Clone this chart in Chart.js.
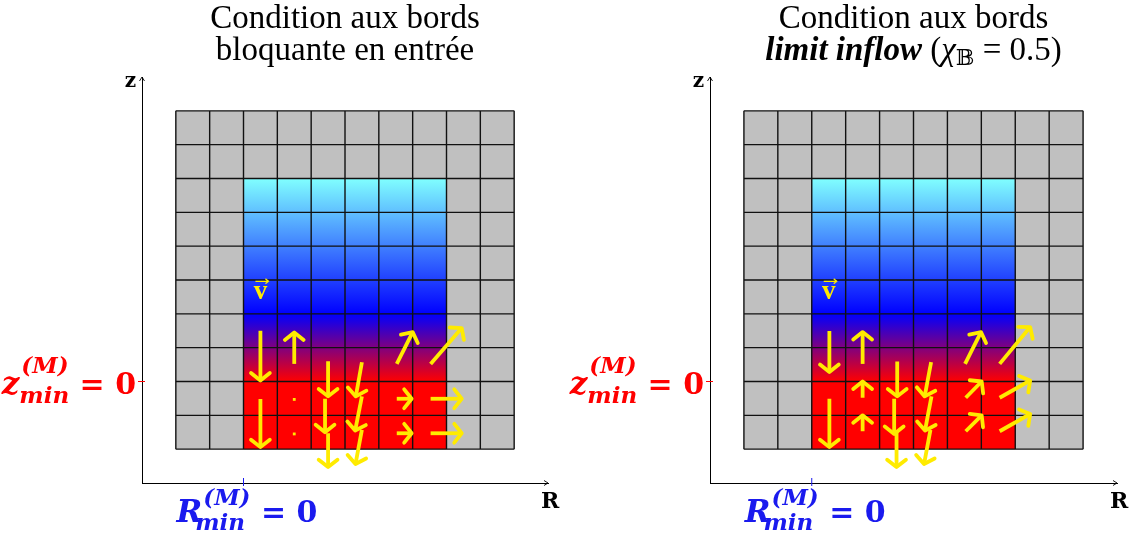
<!DOCTYPE html>
<html>
<head>
<meta charset="utf-8">
<script src="https://cdn.jsdelivr.net/npm/chart.js@4"></script>
<style>
  html, body { margin: 0; padding: 0; background: #fff; }
  #panneaux { position: relative; width: 1137px; height: 536px; overflow: hidden; }
  canvas { position: absolute; top: 0; }
</style>
</head>
<body>
<div id="panneaux">
  <canvas id="graphe-bloquante" width="568" height="536" style="left:0;width:568px;height:536px"></canvas>
  <canvas id="graphe-limit" width="569" height="536" style="left:568px;width:569px;height:536px"></canvas>
</div>
<script>
// Maillage (R, z) : mailles fantômes grises + domaine physique
const bordsR = [-2, 8];
const bordsZ = [-2, 8];
const domaineR = [0, 6];
const domaineZ = [-2, 6];
// dégradé du domaine selon z : [z, couleur]
const degrade = [[6, '#80ffff'], [2, '#0000ff'], [0, '#ff0000'], [-2, '#ff0000']];

// vecteurs vitesse : [R départ, z départ, R arrivée, z arrivée]
const flechesBloquante = [
  [0.5, 1.5, 0.5, 0.03],
  [1.5, 0.52, 1.5, 1.45],
  [2.5, 0.6, 2.5, -0.44],
  [3.5, 0.57, 3.32, -0.44],
  [4.53, 0.52, 5.0, 1.46],
  [5.53, 0.52, 6.45, 1.58],
  [0.5, -0.52, 0.5, -1.94],
  [2.41, -0.51, 2.41, -1.5],
  [3.5, -0.44, 3.3, -1.45],
  [4.53, -0.51, 4.97, -0.51],
  [5.53, -0.51, 6.45, -0.51],
  [2.5, -1.53, 2.5, -2.53],
  [3.5, -1.43, 3.31, -2.44],
  [4.53, -1.53, 4.97, -1.53],
  [5.53, -1.53, 6.45, -1.53]
];
// vitesses nulles (simple point)
const pointsBloquante = [[1.5, -0.53], [1.5, -1.55]];

const flechesLimit = [
  [0.52, 1.49, 0.52, 0.28],
  [1.5, 0.52, 1.5, 1.46],
  [2.52, 0.59, 2.52, -0.44],
  [3.52, 0.57, 3.33, -0.44],
  [4.52, 0.52, 4.99, 1.46],
  [5.54, 0.52, 6.44, 1.61],
  [0.52, -0.51, 0.52, -1.94],
  [1.5, -0.48, 1.5, 0.0],
  [2.43, -0.51, 2.43, -1.55],
  [3.53, -0.44, 3.34, -1.45],
  [4.54, -0.48, 5.01, 0.0],
  [5.54, -0.48, 6.44, 0.03],
  [1.5, -1.47, 1.5, -1.0],
  [2.5, -1.5, 2.5, -2.53],
  [3.5, -1.43, 3.31, -2.44],
  [4.54, -1.47, 5.01, -1.0],
  [5.54, -1.47, 6.44, -0.96]
];
const pointsLimit = [];

// position du symbole v (R, z)
const posVitesse = [0.5, 2.43];

const jaune = '#ffeb00';
const gris = '#c0c0c0';
const rouge = '#ff0000';
const bleu = '#1a1aee';
const serif = '"Liberation Serif", "DejaVu Serif", serif';
const serifMath = '"DejaVu Serif", serif';

// écrit une suite de morceaux de texte (indices / exposants compris)
function ecrireFormule(ctx, x, y, morceaux, align) {
  const largeurs = morceaux.map(m => {
    ctx.font = m.font;
    if (m.sup !== undefined) {
      return Math.max(ctx.measureText(m.sup).width + (m.supDx || 0), ctx.measureText(m.sub).width + (m.subDx || 0));
    }
    return ctx.measureText(m.t).width;
  });
  const total = largeurs.reduce((a, b) => a + b, 0);
  let cx = align === 'right' ? x - total : align === 'center' ? x - total / 2 : x;
  morceaux.forEach((m, i) => {
    ctx.font = m.font;
    if (m.sup !== undefined) {
      ctx.fillText(m.sup, cx + (m.supDx || 0), y - m.up);
      ctx.fillText(m.sub, cx + (m.subDx || 0), y + m.down);
    } else {
      ctx.fillText(m.t, cx, y + (m.dy || 0));
    }
    cx += largeurs[i];
  });
}

const maillage = {
  id: 'maillage',
  beforeDatasetsDraw(chart) {
    const { ctx, scales: { x, y } } = chart;
    ctx.save();
    const x0 = x.getPixelForValue(bordsR[0]), x1 = x.getPixelForValue(bordsR[1]);
    const y0 = y.getPixelForValue(bordsZ[0]), y1 = y.getPixelForValue(bordsZ[1]);
    ctx.fillStyle = gris;
    ctx.fillRect(x0, y1, x1 - x0, y0 - y1);

    const dx0 = x.getPixelForValue(domaineR[0]), dx1 = x.getPixelForValue(domaineR[1]);
    const dyHaut = y.getPixelForValue(domaineZ[1]), dyBas = y.getPixelForValue(domaineZ[0]);
    const grad = ctx.createLinearGradient(0, dyHaut, 0, dyBas);
    degrade.forEach(([z, c]) => {
      grad.addColorStop((y.getPixelForValue(z) - dyHaut) / (dyBas - dyHaut), c);
    });
    ctx.fillStyle = grad;
    ctx.fillRect(dx0, dyHaut, dx1 - dx0, dyBas - dyHaut);

    ctx.strokeStyle = '#111';
    ctx.lineWidth = 1.4;
    ctx.beginPath();
    for (let r = bordsR[0]; r <= bordsR[1]; r++) {
      const px = x.getPixelForValue(r);
      ctx.moveTo(px, y0); ctx.lineTo(px, y1);
    }
    for (let z = bordsZ[0]; z <= bordsZ[1]; z++) {
      const py = y.getPixelForValue(z);
      ctx.moveTo(x0, py); ctx.lineTo(x1, py);
    }
    ctx.stroke();
    ctx.restore();
  }
};

const pointesFleches = {
  id: 'pointesFleches',
  afterDatasetsDraw(chart) {
    const ctx = chart.ctx;
    ctx.save();
    ctx.strokeStyle = jaune;
    ctx.lineWidth = 3.8;
    ctx.lineCap = 'round';
    ctx.lineJoin = 'round';
    chart.data.datasets.forEach((ds, i) => {
      if (!ds.showLine) return;
      const [p0, p1] = chart.getDatasetMeta(i).data;
      const a = Math.atan2(p1.y - p0.y, p1.x - p0.x);
      const l = 12, ouv = 0.9;
      ctx.beginPath();
      ctx.moveTo(p1.x - l * Math.cos(a - ouv), p1.y - l * Math.sin(a - ouv));
      ctx.lineTo(p1.x, p1.y);
      ctx.lineTo(p1.x - l * Math.cos(a + ouv), p1.y - l * Math.sin(a + ouv));
      ctx.stroke();
    });
    ctx.restore();
  }
};

function annotations(ligne2) {
  return {
    id: 'annotations',
    afterDraw(chart) {
      const { ctx, chartArea: ca, scales: { x, y } } = chart;
      ctx.save();
      ctx.textBaseline = 'alphabetic';
      ctx.textAlign = 'left';

      // titre
      ctx.fillStyle = '#000';
      const cx = (ca.left + ca.right) / 2;
      ecrireFormule(ctx, cx, 28, [{ t: 'Condition aux bords', font: '33px ' + serif }], 'center');
      ecrireFormule(ctx, cx, 60, ligne2, 'center');

      // pointes des axes
      ctx.strokeStyle = '#000';
      ctx.lineWidth = 0.9;
      ctx.beginPath();
      ctx.moveTo(ca.right - 4, ca.bottom - 2.5); ctx.lineTo(ca.right, ca.bottom); ctx.lineTo(ca.right - 4, ca.bottom + 2.5);
      ctx.moveTo(ca.left - 2.5, ca.top + 4); ctx.lineTo(ca.left, ca.top); ctx.lineTo(ca.left + 2.5, ca.top + 4);
      ctx.stroke();

      // noms des axes
      ecrireFormule(ctx, ca.left - 6, ca.top + 10, [{ t: 'z', font: 'bold 20px ' + serifMath }], 'right');
      ecrireFormule(ctx, ca.right - 7, ca.bottom + 25, [{ t: 'R', font: 'bold 22px ' + serifMath }], 'left');

      // repères z = 0 et R = 0
      const z0 = y.getPixelForValue(0);
      const r0 = x.getPixelForValue(0);
      ctx.lineWidth = 1;
      ctx.strokeStyle = rouge;
      ctx.beginPath(); ctx.moveTo(ca.left - 4, z0); ctx.lineTo(ca.left + 3, z0); ctx.stroke();
      ctx.strokeStyle = bleu;
      ctx.beginPath(); ctx.moveTo(r0, ca.bottom - 5); ctx.lineTo(r0, ca.bottom + 3); ctx.stroke();

      const fMath = 'italic bold 31px ' + serifMath;
      const fScript = 'italic bold 23px ' + serifMath;
      const fEgal = 'bold 30px ' + serifMath;
      ctx.fillStyle = rouge;
      ecrireFormule(ctx, ca.left - 6, z0 + 12, [
        { t: 'z', font: fMath },
        { sup: '(M)', sub: 'min', font: fScript, up: 21, down: 9, supDx: 2 },
        { t: ' = 0', font: fEgal }
      ], 'right');
      ctx.fillStyle = bleu;
      ecrireFormule(ctx, r0 - 67, ca.bottom + 39, [
        { t: 'R', font: fMath },
        { sup: '(M)', sub: 'min', font: fScript, up: 17, down: 8, supDx: 1, subDx: -7 },
        { t: ' = 0', font: fEgal }
      ], 'left');

      // symbole de la vitesse
      const vx = x.getPixelForValue(posVitesse[0]);
      const vy = y.getPixelForValue(posVitesse[1]);
      ctx.fillStyle = jaune;
      ctx.strokeStyle = jaune;
      ctx.font = 'bold 27px ' + serif;
      ctx.textAlign = 'center';
      ctx.fillText('v', vx, vy);
      ctx.lineWidth = 1.3;
      ctx.beginPath();
      ctx.moveTo(vx - 5, vy - 18); ctx.lineTo(vx + 8, vy - 18);
      ctx.moveTo(vx + 5, vy - 20.5); ctx.lineTo(vx + 8, vy - 18); ctx.lineTo(vx + 5, vy - 15.5);
      ctx.stroke();
      ctx.restore();
    }
  };
}

function creerGraphe(id, fleches, points, ligne2) {
  const datasets = fleches.map(([r0, z0, r1, z1]) => ({
    data: [{ x: r0, y: z0 }, { x: r1, y: z1 }],
    showLine: true,
    borderColor: jaune,
    borderWidth: 3.8,
    pointRadius: 0
  }));
  if (points.length) {
    datasets.push({
      data: points.map(([r, z]) => ({ x: r, y: z })),
      showLine: false,
      pointStyle: 'rect',
      pointRadius: 2,
      backgroundColor: jaune,
      borderWidth: 0
    });
  }
  const axe = {
    type: 'linear',
    min: -3,
    max: 9,
    ticks: { display: false },
    grid: { display: false, drawTicks: false },
    border: { display: true, color: '#000', width: 1 }
  };
  return new Chart(document.getElementById(id), {
    type: 'scatter',
    data: { datasets },
    options: {
      responsive: false,
      animation: false,
      devicePixelRatio: 1,
      layout: { padding: { left: 142, right: 20, top: 77, bottom: 53 } },
      plugins: { legend: { display: false }, tooltip: { enabled: false } },
      scales: {
        x: { ...axe, afterFit: s => { s.height = 0; } },
        y: { ...axe, afterFit: s => { s.width = 0; } }
      }
    },
    plugins: [maillage, pointesFleches, annotations(ligne2)]
  });
}

creerGraphe('graphe-bloquante', flechesBloquante, pointsBloquante, [
  { t: 'bloquante en entrée', font: '33px ' + serif }
]);
creerGraphe('graphe-limit', flechesLimit, pointsLimit, [
  { t: 'limit inflow', font: 'italic bold 33px ' + serif },
  { t: ' (', font: '33px ' + serif },
  { t: 'χ', font: 'italic 33px ' + serif },
  { t: '𝔹', font: '22px ' + serif + ', "DejaVu Sans"', dy: 5 },
  { t: ' = 0.5)', font: '33px ' + serif }
]);
</script>
</body>
</html>
